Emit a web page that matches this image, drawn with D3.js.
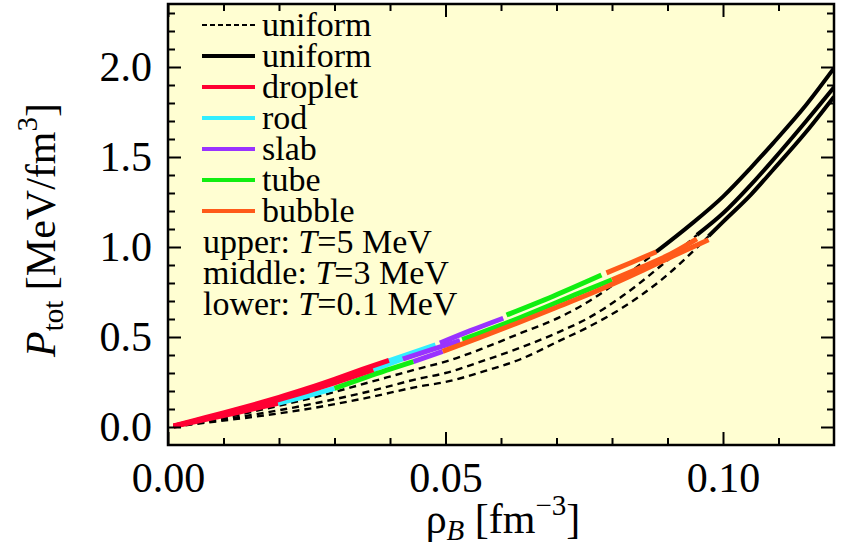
<!DOCTYPE html>
<html>
<head>
<meta charset="utf-8">
<script src="https://cdn.jsdelivr.net/npm/d3@7"></script>
<style>
  body { margin: 0; background: #fff; }
  svg { display: block; }
  text { font-family: "Liberation Serif", "Times New Roman", serif; fill: #000; }
</style>
</head>
<body>
<svg id="chart" width="846" height="549"></svg>
<script>
// Axis ticks
const xMajorTicks = [0, 0.05, 0.10];
const xMinorTicks = [0.01, 0.02, 0.03, 0.04, 0.06, 0.07, 0.08, 0.09, 0.11];
const yMajorTicks = [0, 0.5, 1.0, 1.5, 2.0];
const yMinorTicks = [0.1, 0.2, 0.3, 0.4, 0.6, 0.7, 0.8, 0.9, 1.1, 1.2, 1.3, 1.4, 1.6, 1.7, 1.8, 1.9, 2.1, 2.2, 2.3];

// Uniform matter (dashed), [rho_B, P_tot]
const uniformDashedT5  = [[0.001,0.004],[0.009,0.045],[0.018,0.104],[0.027,0.17],[0.036,0.246],[0.0454,0.326],[0.05,0.363],[0.057,0.44],[0.0634,0.52],[0.0706,0.61],[0.0754,0.69],[0.082,0.83],[0.088,0.974]];
const uniformDashedT3  = [[0.001,0.003],[0.009,0.038],[0.018,0.082],[0.027,0.135],[0.036,0.196],[0.0454,0.27],[0.05,0.30],[0.057,0.37],[0.0634,0.44],[0.0706,0.53],[0.0754,0.60],[0.082,0.73],[0.0886,0.89],[0.0953,1.067]];
const uniformDashedT01 = [[0.001,0.002],[0.009,0.032],[0.018,0.067],[0.027,0.11],[0.036,0.163],[0.0454,0.226],[0.05,0.25],[0.057,0.31],[0.0634,0.375],[0.0706,0.48],[0.0754,0.55],[0.082,0.665],[0.0886,0.81],[0.0974,1.06]];

// Uniform matter where it is the stable phase (solid)
const uniformSolidT5  = [[0.088,0.974],[0.094,1.12],[0.1,1.28],[0.105,1.44],[0.109,1.576],[0.115,1.79],[0.12,1.993]];
const uniformSolidT3  = [[0.0953,1.067],[0.1,1.187],[0.105,1.345],[0.109,1.483],[0.115,1.70],[0.12,1.887]];
const uniformSolidT01 = [[0.0974,1.06],[0.1,1.14],[0.105,1.29],[0.109,1.428],[0.115,1.64],[0.12,1.835]];

// Pasta phases, T = 5 MeV
const dropletT5 = [[0.001,0.006],[0.005,0.038],[0.010,0.078],[0.015,0.12],[0.020,0.165],[0.025,0.213],[0.030,0.265],[0.035,0.32],[0.0398,0.37]];
const rodT5     = [[0.0395,0.365],[0.044,0.412],[0.0482,0.456]];
const slabT5    = [[0.049,0.466],[0.0545,0.535],[0.0604,0.604]];
const tubeT5    = [[0.061,0.622],[0.0695,0.728],[0.0781,0.844]];
const bubbleT5  = [[0.079,0.856],[0.0835,0.914],[0.088,0.974]];

// Pasta phases, T = 3 MeV
const dropletT3 = [[0.001,0.005],[0.005,0.034],[0.010,0.071],[0.015,0.11],[0.020,0.152],[0.025,0.197],[0.030,0.245],[0.037,0.318]];
const rodT3     = [[0.037,0.318],[0.0423,0.378]];
const slabT3    = [[0.0423,0.378],[0.0475,0.43],[0.0526,0.48]];
const tubeT3    = [[0.053,0.485],[0.0634,0.607],[0.0742,0.745],[0.080,0.818]];
const bubbleT3  = [[0.080,0.818],[0.0855,0.89],[0.0905,0.96],[0.0953,1.045]];

// Pasta phases, T = 0.1 MeV
const dropletT01 = [[0.001,0.004],[0.005,0.03],[0.010,0.064],[0.015,0.098],[0.0198,0.132]];
const rodT01     = [[0.0198,0.132],[0.025,0.172],[0.030,0.215]];
const tubeT01    = [[0.030,0.215],[0.036,0.28],[0.0442,0.363]];
const slabT01    = [[0.0442,0.363],[0.0495,0.42]];
const bubbleT01  = [[0.0495,0.42],[0.056,0.495],[0.063,0.578],[0.0706,0.672],[0.078,0.765],[0.085,0.862],[0.091,0.95],[0.0974,1.04]];

// Legend entries
const legendLabels = ["uniform", "uniform", "droplet", "rod", "slab", "tube", "bubble"];
const legendColors = ["#000", "#000", "#ff0033", "#33eeff", "#9933ff", "#11ee11", "#ff5a1a"];
const tempNotes = [["upper: ", "5 MeV"], ["middle: ", "3 MeV"], ["lower: ", "0.1 MeV"]];

const colors = { droplet: "#ff0033", rod: "#33eeff", slab: "#9933ff", tube: "#11ee11", bubble: "#ff5a1a" };

const svg = d3.select("#chart");
const plot = { left: 168, right: 834, top: 4, bottom: 445 };

const x = d3.scaleLinear().domain([0, 0.12]).range([plot.left, plot.right]);
const y = d3.scaleLinear().domain([-0.1, 2.35]).range([plot.bottom, plot.top]);

// Plot background
svg.append("rect")
  .attr("x", plot.left).attr("y", plot.top)
  .attr("width", plot.right - plot.left).attr("height", plot.bottom - plot.top)
  .attr("fill", "#fffed2");

svg.append("clipPath").attr("id", "plot-clip")
  .append("rect")
  .attr("x", plot.left).attr("y", plot.top)
  .attr("width", plot.right - plot.left).attr("height", plot.bottom - plot.top);

const line = d3.line().x(d => x(d[0])).y(d => y(d[1])).curve(d3.curveMonotoneX);
const g = svg.append("g").attr("clip-path", "url(#plot-clip)");

// Dashed uniform curves
[uniformDashedT5, uniformDashedT3, uniformDashedT01].forEach(d => {
  g.append("path").attr("d", line(d))
    .attr("fill", "none").attr("stroke", "#000")
    .attr("stroke-width", 2.4).attr("stroke-dasharray", "7,5");
});

// Pasta phase segments
const pasta = [
  [rodT5, "rod"], [rodT3, "rod"], [rodT01, "rod"],
  [slabT5, "slab"], [slabT3, "slab"], [slabT01, "slab"],
  [tubeT5, "tube"], [tubeT3, "tube"], [tubeT01, "tube"],
  [bubbleT01, "bubble"], [bubbleT3, "bubble"], [bubbleT5, "bubble"],
  [dropletT01, "droplet"], [dropletT3, "droplet"], [dropletT5, "droplet"]
];
pasta.forEach(([d, phase]) => {
  g.append("path").attr("d", line(d))
    .attr("fill", "none").attr("stroke", colors[phase])
    .attr("stroke-width", 5).attr("stroke-linecap", "butt");
});

// Solid uniform curves
[uniformSolidT5, uniformSolidT3, uniformSolidT01].forEach(d => {
  g.append("path").attr("d", line(d))
    .attr("fill", "none").attr("stroke", "#000")
    .attr("stroke-width", 4);
});

// Axes with inward ticks on all four sides
function styleAxis(sel) {
  sel.select(".domain").remove();
  sel.selectAll(".tick line").attr("stroke", "#000").attr("stroke-width", 2);
  sel.selectAll("text").style("font-size", "42px").attr("font-family", "Liberation Serif, serif");
}
const fmtX = d3.format(".2f"), fmtY = d3.format(".1f");

svg.append("g").attr("transform", `translate(0,${plot.bottom})`)
  .call(d3.axisBottom(x).tickValues(xMajorTicks).tickSize(-13).tickPadding(17).tickFormat(fmtX))
  .call(styleAxis);
svg.append("g").attr("transform", `translate(0,${plot.bottom})`)
  .call(d3.axisBottom(x).tickValues(xMinorTicks).tickSize(-7).tickFormat(""))
  .call(styleAxis);
svg.append("g").attr("transform", `translate(0,${plot.top})`)
  .call(d3.axisTop(x).tickValues(xMajorTicks).tickSize(-13).tickFormat(""))
  .call(styleAxis);
svg.append("g").attr("transform", `translate(0,${plot.top})`)
  .call(d3.axisTop(x).tickValues(xMinorTicks).tickSize(-7).tickFormat(""))
  .call(styleAxis);

svg.append("g").attr("transform", `translate(${plot.left},0)`)
  .call(d3.axisLeft(y).tickValues(yMajorTicks).tickSize(-13).tickPadding(16).tickFormat(fmtY))
  .call(styleAxis);
svg.append("g").attr("transform", `translate(${plot.left},0)`)
  .call(d3.axisLeft(y).tickValues(yMinorTicks).tickSize(-7).tickFormat(""))
  .call(styleAxis);
svg.append("g").attr("transform", `translate(${plot.right},0)`)
  .call(d3.axisRight(y).tickValues(yMajorTicks).tickSize(-13).tickFormat(""))
  .call(styleAxis);
svg.append("g").attr("transform", `translate(${plot.right},0)`)
  .call(d3.axisRight(y).tickValues(yMinorTicks).tickSize(-7).tickFormat(""))
  .call(styleAxis);

// Frame
svg.append("rect")
  .attr("x", plot.left).attr("y", plot.top)
  .attr("width", plot.right - plot.left).attr("height", plot.bottom - plot.top)
  .attr("fill", "none").attr("stroke", "#000").attr("stroke-width", 2.5);

// Legend
const legend = svg.append("g");
const rowY = i => 25 + 31 * i;
legendLabels.forEach((label, i) => {
  legend.append("line")
    .attr("x1", 202).attr("x2", 255).attr("y1", rowY(i)).attr("y2", rowY(i))
    .attr("stroke", legendColors[i])
    .attr("stroke-width", i === 0 ? 2 : 4)
    .attr("stroke-dasharray", i === 0 ? "5,3" : null);
  legend.append("text")
    .attr("x", 262).attr("y", rowY(i) + 11)
    .style("font-size", "34px")
    .text(label);
});
tempNotes.forEach((t, i) => {
  const txt = legend.append("text")
    .attr("x", 203).attr("y", rowY(7 + i) + 11)
    .style("font-size", "34px");
  txt.append("tspan").text(t[0]);
  txt.append("tspan").attr("font-style", "italic").text("T");
  txt.append("tspan").text("=" + t[1]);
});

// Axis titles
const xTitle = svg.append("text")
  .attr("x", 503).attr("y", 533)
  .attr("text-anchor", "middle")
  .style("font-size", "42px");
xTitle.append("tspan").text("ρ");
xTitle.append("tspan").attr("font-style", "italic").attr("dy", 7).style("font-size", "29px").text("B");
xTitle.append("tspan").attr("dy", -7).text(" [fm");
xTitle.append("tspan").attr("dy", -18).style("font-size", "29px").text("−3");
xTitle.append("tspan").attr("dy", 18).text("]");

const yTitle = svg.append("text")
  .attr("transform", "translate(55,230) rotate(-90)")
  .attr("text-anchor", "middle")
  .style("font-size", "42px");
yTitle.append("tspan").attr("font-style", "italic").text("P");
yTitle.append("tspan").attr("dy", 8).style("font-size", "29px").text("tot");
yTitle.append("tspan").attr("dy", -8).text(" [MeV/fm");
yTitle.append("tspan").attr("dy", -18).style("font-size", "29px").text("3");
yTitle.append("tspan").attr("dy", 18).text("]");
</script>
</body>
</html>
